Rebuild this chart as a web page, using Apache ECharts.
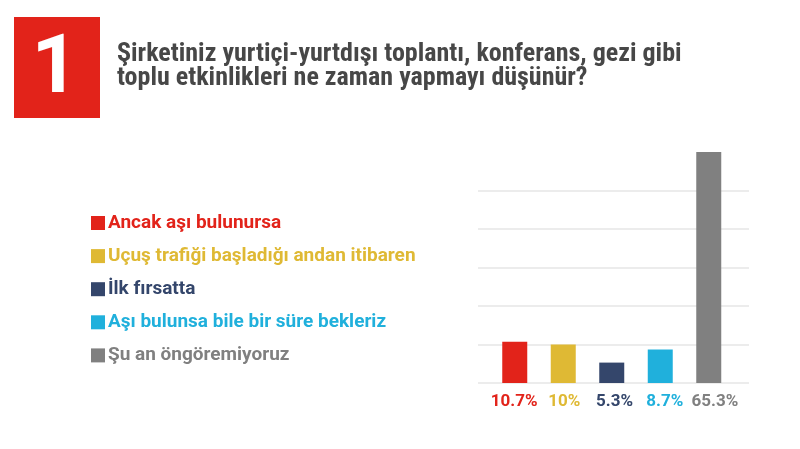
<!DOCTYPE html>
<html>
<head>
<meta charset="utf-8">
<style>
  html, body { margin: 0; padding: 0; background: #ffffff; }
  #chart { width: 800px; height: 449px; }
</style>
<script src="https://cdn.jsdelivr.net/npm/echarts@6.0.0/dist/echarts.min.js"></script>
</head>
<body>
<div id="chart"></div>
<script>
// Survey answers (percent of companies)
const categories = [
  'Ancak aşı bulunursa',
  'Uçuş trafiği başladığı andan itibaren',
  'İlk fırsatta',
  'Aşı bulunsa bile bir süre bekleriz',
  'Şu an öngöremiyoruz'
];
const values = [10.7, 10, 5.3, 8.7, 65.3];
const valueLabels = ['10.7%', '10%', '5.3%', '8.7%', '65.3%'];
const colors = ['#e2231a', '#dfb934', '#34466b', '#20b0dc', '#808080'];

const questionNo = '1';
const questionText = 'Şirketiniz yurtiçi-yurtdışı toplantı, konferans, gezi gibi\ntoplu etkinlikleri ne zaman yapmayı düşünür?';

const CONDENSED = "'Roboto Condensed', 'Liberation Sans Narrow', 'DejaVu Sans Condensed', Roboto, sans-serif";
const FONT = "Roboto, 'Noto Sans', sans-serif";

const chart = echarts.init(document.getElementById('chart'), null, { renderer: 'canvas' });

// one series per answer, stacked so every bar sits on its own category slot
const series = categories.map((name, i) => ({
  name: name,
  type: 'bar',
  stack: 'all',
  xAxisIndex: 1,
  yAxisIndex: 1,
  barWidth: 25,
  itemStyle: { color: colors[i] },
  data: values.map((v, j) => (j === i ? v : '-')),
  clip: true
}));

chart.setOption({
  animation: false,
  backgroundColor: '#ffffff',
  title: [{
    text: questionText,
    left: 117,
    top: 42,
    padding: 0,
    textStyle: {
      fontFamily: CONDENSED,
      fontWeight: 'bold',
      fontSize: 26,
      lineHeight: 24,
      color: '#474747'
    }
  }],
  graphic: [
    {
      type: 'rect',
      left: 14,
      top: 17,
      shape: { width: 86, height: 101 },
      style: { fill: '#e2231a' }
    },
    {
      type: 'text',
      x: 55,
      y: 71,
      style: {
        text: questionNo,
        fill: '#ffffff',
        font: "bold 82px " + FONT,
        align: 'center',
        verticalAlign: 'middle'
      }
    }
  ],
  legend: {
    orient: 'vertical',
    left: 86,
    top: 208,
    itemWidth: 14,
    itemHeight: 14,
    itemGap: 13.1,
    icon: 'rect',
    selectedMode: false,
    data: categories.map((name, i) => ({
      name: name,
      textStyle: { color: colors[i] }
    })),
    textStyle: {
      fontFamily: FONT,
      fontWeight: 'bold',
      fontSize: 19,
      lineHeight: 20,
      padding: [0, 0, 0, -2]
    }
  },
  grid: [
    // wide grid carrying the horizontal guide lines
    { left: 478, width: 271, top: 152, bottom: 66 },
    // narrower grid holding the bars
    { left: 490.5, width: 242.5, top: 152, bottom: 66 },
    // percentage labels under the bars
    { left: 489, width: 251, top: 152, bottom: 66 }
  ],
  xAxis: [
    {
      gridIndex: 0,
      type: 'category',
      data: categories,
      show: false
    },
    {
      gridIndex: 1,
      type: 'category',
      data: categories,
      show: false
    },
    {
      gridIndex: 2,
      type: 'category',
      data: categories,
      axisLine: { show: false },
      axisTick: { show: false },
      axisLabel: {
        interval: 0,
        margin: 10,
        fontFamily: FONT,
        fontWeight: 'bold',
        fontSize: 17,
        formatter: (val, idx) => valueLabels[idx],
        color: (val, idx) => colors[idx]
      }
    }
  ],
  yAxis: [
    {
      gridIndex: 0,
      type: 'value',
      min: 0,
      max: 60,
      interval: 10,
      axisLine: { show: false },
      axisTick: { show: false },
      axisLabel: { show: false },
      splitLine: {
        show: true,
        showMaxLine: false,
        lineStyle: { color: '#e6e6e6', width: 1.5 }
      }
    },
    {
      gridIndex: 1,
      type: 'value',
      min: 0,
      max: 60,
      interval: 10,
      show: false,
      splitLine: { show: false }
    },
    {
      gridIndex: 2,
      type: 'value',
      min: 0,
      max: 60,
      interval: 10,
      show: false,
      splitLine: { show: false }
    }
  ],
  series: series
});
</script>
</body>
</html>
